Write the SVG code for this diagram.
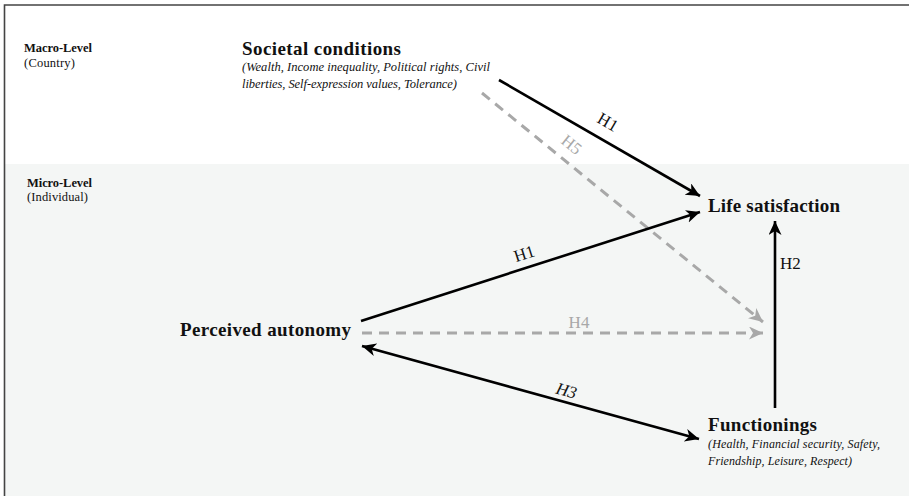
<svg xmlns="http://www.w3.org/2000/svg" width="909" height="496" viewBox="0 0 909 496">
<style>
  text { font-family: "Liberation Serif", "DejaVu Serif", serif; fill: #111; }
  .lvl { font-size: 12.5px; font-weight: bold; }
  .lvlsub { font-size: 12.5px; }
  .title { font-size: 19px; font-weight: bold; }
  .sub { font-size: 12.5px; font-style: italic; }
  .fsub { font-size: 12px; font-style: italic; }
  .lab { font-size: 17px; }
  .labg { font-size: 17px; fill: #a8a8a8; }
  .solid { stroke: #000; stroke-width: 2.6; fill: none; }
  .dash { stroke: #a8a8a8; stroke-width: 3; fill: none; stroke-dasharray: 10 7; }
</style>
<defs>
  <marker id="ab" markerUnits="userSpaceOnUse" markerWidth="16" markerHeight="14" refX="14" refY="6.5" orient="auto-start-reverse" viewBox="0 0 16 14">
    <path d="M0,0 L14,6.5 L0,13 L4,6.5 z" fill="#000"/>
  </marker>
  <marker id="ag" markerUnits="userSpaceOnUse" markerWidth="16" markerHeight="14" refX="14" refY="6.5" orient="auto" viewBox="0 0 16 14">
    <path d="M0,0 L14,6.5 L0,13 L4,6.5 z" fill="#a8a8a8"/>
  </marker>
</defs>
<rect x="0" y="0" width="909" height="496" fill="#fff"/>
<rect x="5" y="164" width="904" height="332" fill="#f4f6f5"/>
<path d="M4.5,496 L4.5,5 L909,5" stroke="#444" stroke-width="1.6" fill="none"/>

<g id="levels">
  <text class="lvl" x="24" y="52" textLength="68" lengthAdjust="spacing">Macro-Level</text>
  <text class="lvlsub" x="24" y="67" textLength="51" lengthAdjust="spacing">(Country)</text>
  <text class="lvl" x="27" y="187" textLength="65" lengthAdjust="spacing">Micro-Level</text>
  <text class="lvlsub" x="27" y="201" textLength="61" lengthAdjust="spacing">(Individual)</text>
</g>

<g id="connectors">
  <line class="solid" x1="499" y1="80" x2="700" y2="196" marker-end="url(#ab)"/>
  <line class="dash" x1="482" y1="93" x2="763" y2="322" marker-end="url(#ag)"/>
  <line class="solid" x1="361" y1="321" x2="700" y2="212" marker-end="url(#ab)"/>
  <line class="dash" x1="362" y1="333" x2="763" y2="333" marker-end="url(#ag)"/>
  <line class="solid" x1="362" y1="346" x2="699" y2="439" marker-start="url(#ab)" marker-end="url(#ab)"/>
  <line class="solid" x1="775" y1="408" x2="775" y2="221" marker-end="url(#ab)"/>
  <text class="lab" transform="translate(605,127) rotate(30)" text-anchor="middle">H1</text>
  <text class="labg" transform="translate(568,149) rotate(39)" text-anchor="middle">H5</text>
  <text class="lab" transform="translate(526,259) rotate(-17.7)" text-anchor="middle">H1</text>
  <text class="labg" x="579" y="328" text-anchor="middle">H4</text>
  <text class="lab" font-style="italic" transform="translate(565,396) rotate(15.5)" text-anchor="middle">H3</text>
  <text class="lab" x="780" y="269">H2</text>
</g>

<g id="societal">
  <text class="title" x="242" y="55" textLength="159" lengthAdjust="spacing">Societal conditions</text>
  <text class="sub" x="242" y="71" textLength="248" lengthAdjust="spacing">(Wealth, Income inequality, Political rights, Civil</text>
  <text class="sub" x="242" y="88" textLength="215" lengthAdjust="spacing">liberties, Self-expression values, Tolerance)</text>
</g>
<g id="life">
  <text class="title" x="708" y="212" textLength="132" lengthAdjust="spacing">Life satisfaction</text>
</g>
<g id="autonomy">
  <text class="title" x="180" y="336" textLength="171" lengthAdjust="spacing">Perceived autonomy</text>
</g>
<g id="functionings">
  <text class="title" x="708" y="431" textLength="109" lengthAdjust="spacing">Functionings</text>
  <text class="fsub" x="708" y="448" textLength="172" lengthAdjust="spacing">(Health, Financial security, Safety,</text>
  <text class="fsub" x="708" y="465" textLength="144" lengthAdjust="spacing">Friendship, Leisure, Respect)</text>
</g>
</svg>
